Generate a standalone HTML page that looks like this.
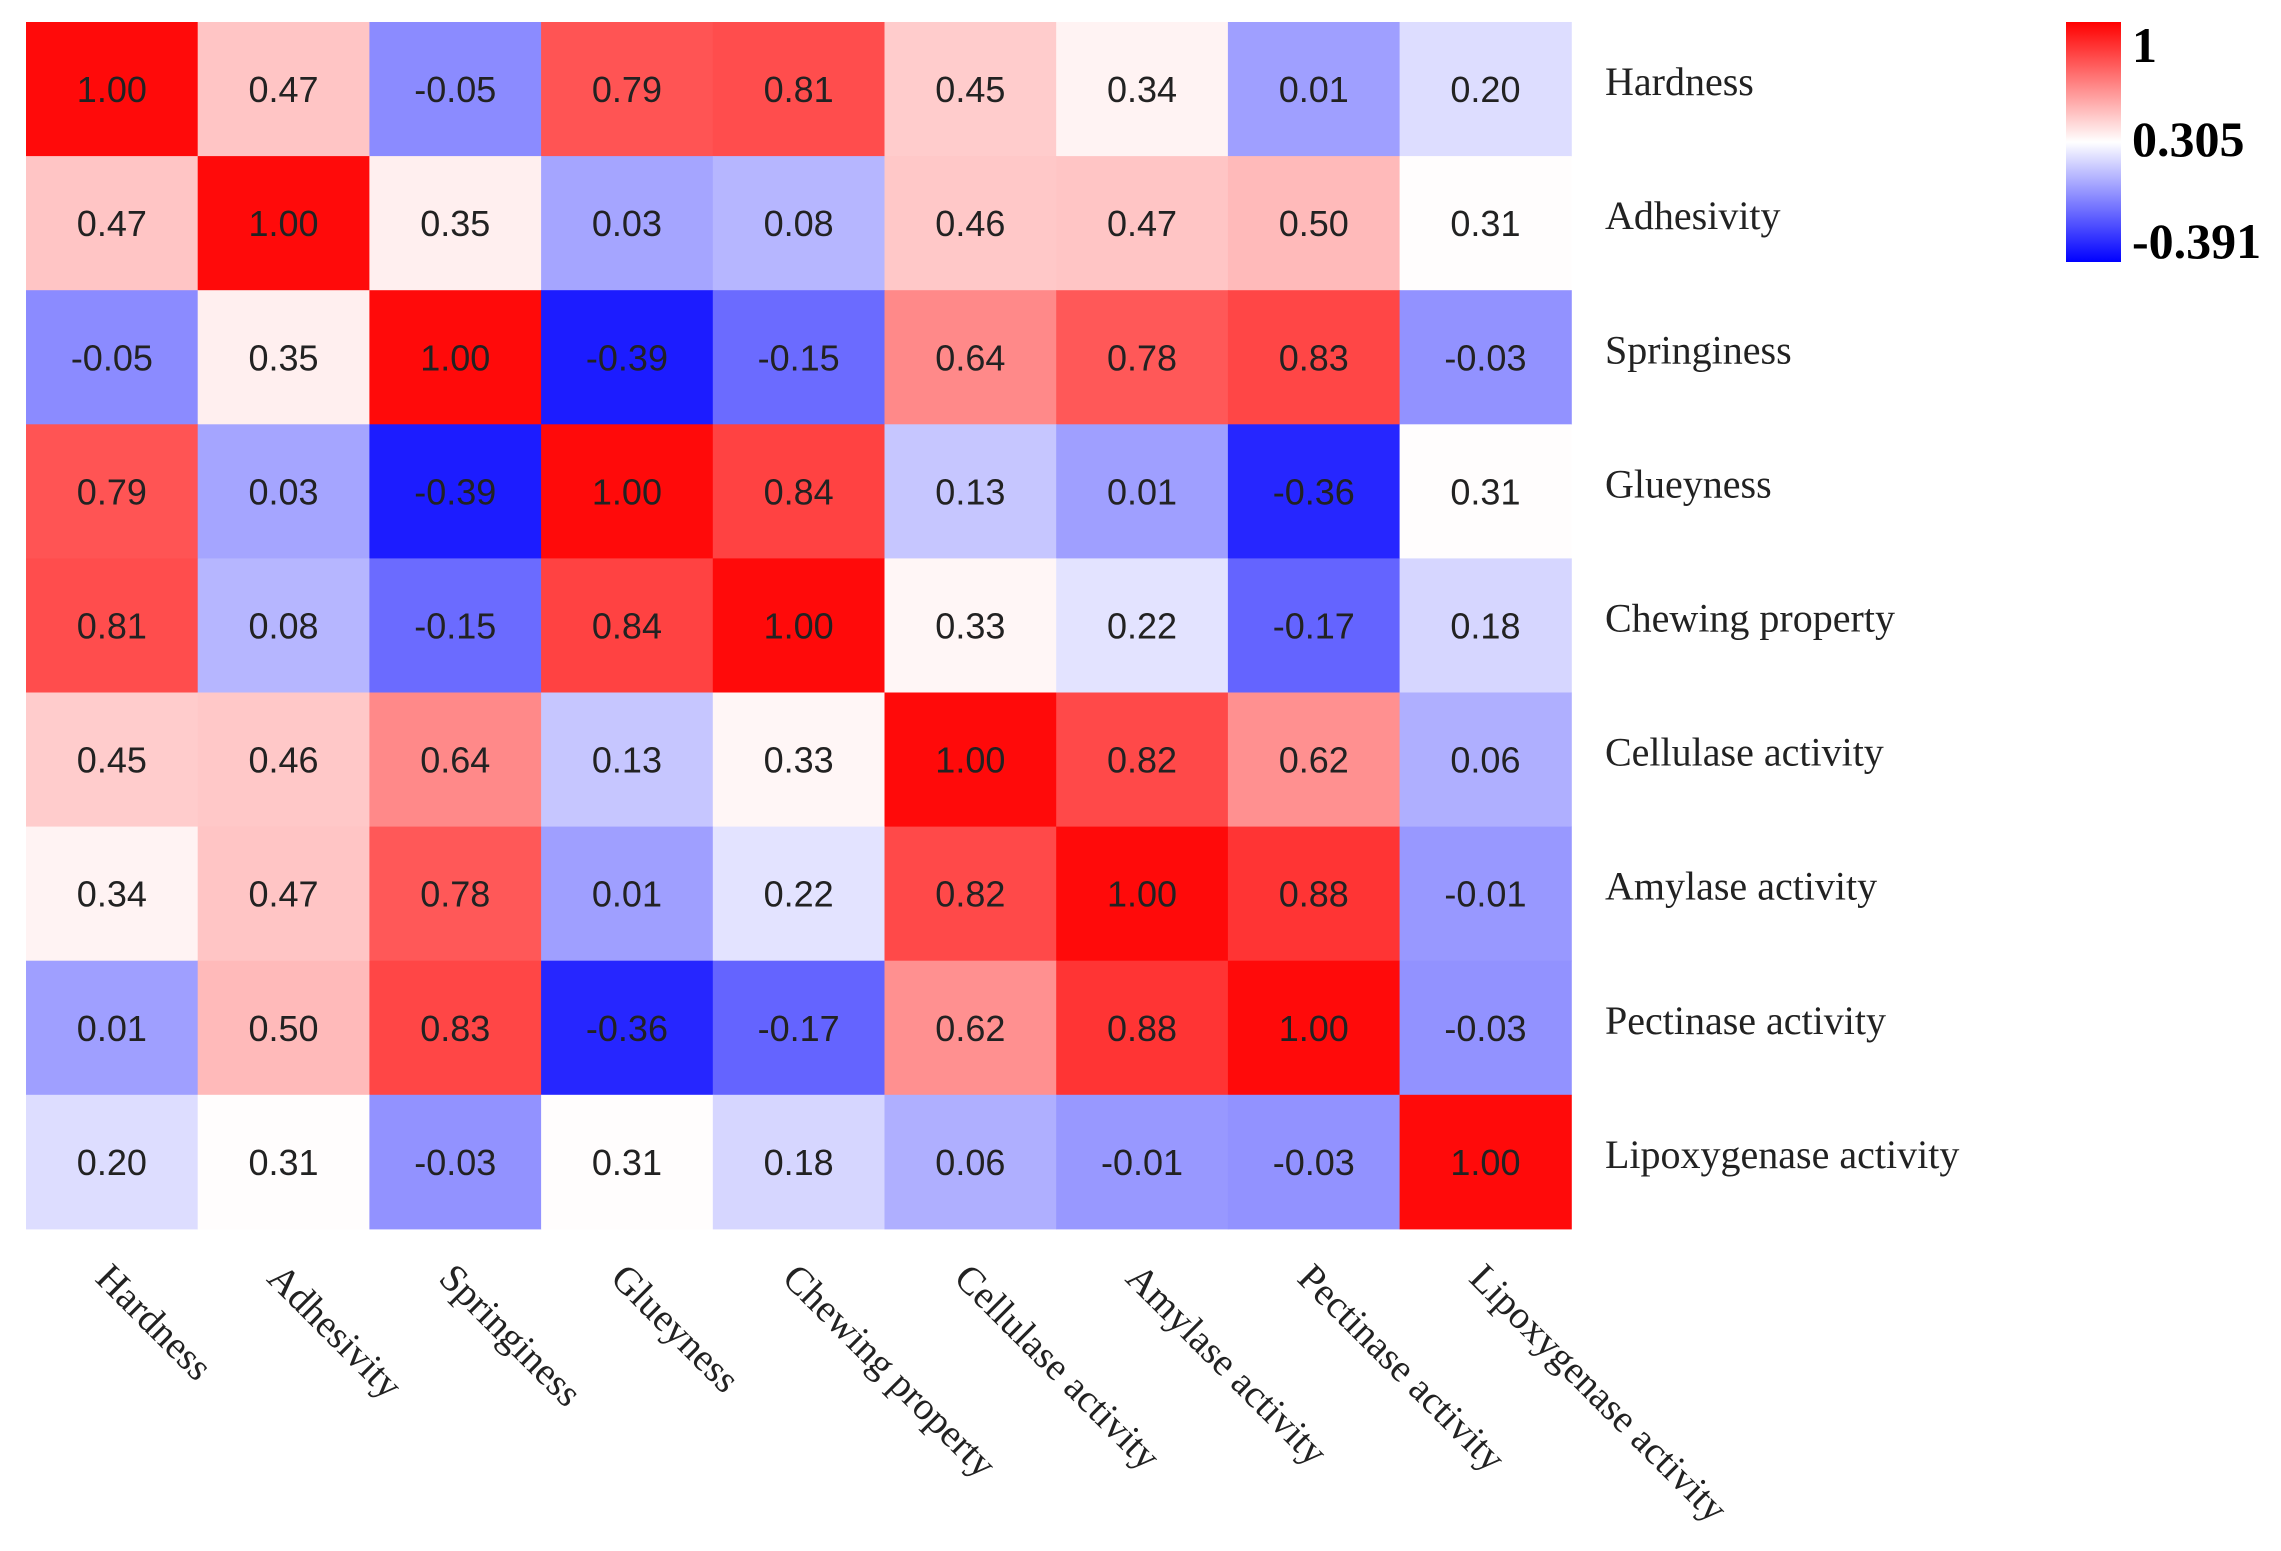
<!DOCTYPE html>
<html><head><meta charset="utf-8">
<style>html,body{margin:0;padding:0;background:#fff;}svg{display:block;}</style>
</head><body>
<svg id="chart" width="2281" height="1551" viewBox="0 0 2281 1551" xmlns="http://www.w3.org/2000/svg">
<defs>
<linearGradient id="cbar" x1="0" y1="0" x2="0" y2="1">
<stop offset="0" stop-color="#ff0000"/><stop offset="0.5" stop-color="#ffffff"/><stop offset="1" stop-color="#0000ff"/>
</linearGradient>
</defs>
<g id="cells"></g>
<g id="rowlabels"></g>
<g id="collabels"></g>
<g>
<rect x="2066" y="22" width="55" height="240" fill="url(#cbar)"/>
<text x="2132" y="62" font-family="Liberation Serif, serif" font-weight="bold" font-size="50">1</text>
<text x="2132" y="156" font-family="Liberation Serif, serif" font-weight="bold" font-size="50">0.305</text>
<text x="2132" y="258" font-family="Liberation Serif, serif" font-weight="bold" font-size="50">-0.391</text>
</g>
</svg>
<script>
const labels = ["Hardness","Adhesivity","Springiness","Glueyness","Chewing property","Cellulase activity","Amylase activity","Pectinase activity","Lipoxygenase activity"];
const row0 = [1.00,0.47,-0.05,0.79,0.81,0.45,0.34,0.01,0.20];
const row1 = [0.47,1.00,0.35,0.03,0.08,0.46,0.47,0.50,0.31];
const row2 = [-0.05,0.35,1.00,-0.39,-0.15,0.64,0.78,0.83,-0.03];
const row3 = [0.79,0.03,-0.39,1.00,0.84,0.13,0.01,-0.36,0.31];
const row4 = [0.81,0.08,-0.15,0.84,1.00,0.33,0.22,-0.17,0.18];
const row5 = [0.45,0.46,0.64,0.13,0.33,1.00,0.82,0.62,0.06];
const row6 = [0.34,0.47,0.78,0.01,0.22,0.82,1.00,0.88,-0.01];
const row7 = [0.01,0.50,0.83,-0.36,-0.17,0.62,0.88,1.00,-0.03];
const row8 = [0.20,0.31,-0.03,0.31,0.18,0.06,-0.01,-0.03,1.00];
const matrix = [row0,row1,row2,row3,row4,row5,row6,row7,row8];
const scaleMin = -0.391, scaleMid = 0.305, scaleMax = 1;

const NS = "http://www.w3.org/2000/svg";
const X0 = 26, Y0 = 22, CW = 171.7, CH = 134.1;
function xPos(i){ return X0 + i*CW; }
function yPos(j){ return Y0 + j*CH; }
function color(v){
  let r,g,b;
  if (v >= scaleMid){ const t = Math.min(1,(v-scaleMid)/(scaleMax-scaleMid)); r=255; g=b=Math.round(10+245*(1-t)); }
  else { const t = Math.min(1,(scaleMid-v)/(scaleMid-scaleMin)); b=255; r=g=Math.round(28+227*(1-t)); }
  return `rgb(${r},${g},${b})`;
}
const cells = document.getElementById('cells');
matrix.forEach((row,j)=>{
  row.forEach((v,i)=>{
    const r = document.createElementNS(NS,'rect');
    
    
    r.setAttribute('x', xPos(i)); r.setAttribute('y', yPos(j));
    r.setAttribute('width', CW+0.5); r.setAttribute('height', CH+0.5);
    r.setAttribute('fill', color(v));
    cells.appendChild(r);
    const t = document.createElementNS(NS,'text');
    
    
    t.setAttribute('x', xPos(i)+CW/2); t.setAttribute('y', yPos(j)+CH/2+13);
    t.setAttribute('text-anchor','middle');
    t.setAttribute('font-family','Liberation Sans, sans-serif');
    t.setAttribute('font-size','36'); t.setAttribute('fill','#222');
    t.textContent = v.toFixed(2);
    cells.appendChild(t);
  });
});
const rl = document.getElementById('rowlabels');
labels.forEach((s,j)=>{
  const t = document.createElementNS(NS,'text');
  
  
  t.setAttribute('x', 1605); t.setAttribute('y', yPos(j)+CH/2+6);
  t.setAttribute('font-family','Liberation Serif, serif');
  t.setAttribute('font-size','40'); t.setAttribute('fill','#222');
  t.textContent = s;
  rl.appendChild(t);
});
const cl = document.getElementById('collabels');
labels.forEach((s,i)=>{
  const t = document.createElementNS(NS,'text');
  
  
  const x = xPos(i)+CW/2-18, y = 1280;
  t.setAttribute('x', x); t.setAttribute('y', y);
  t.setAttribute('transform', `rotate(45 ${x} ${y})`);
  t.setAttribute('font-family','Liberation Serif, serif');
  t.setAttribute('font-size','39'); t.setAttribute('fill','#222');
  t.textContent = s;
  cl.appendChild(t);
});
</script>
</body></html>
